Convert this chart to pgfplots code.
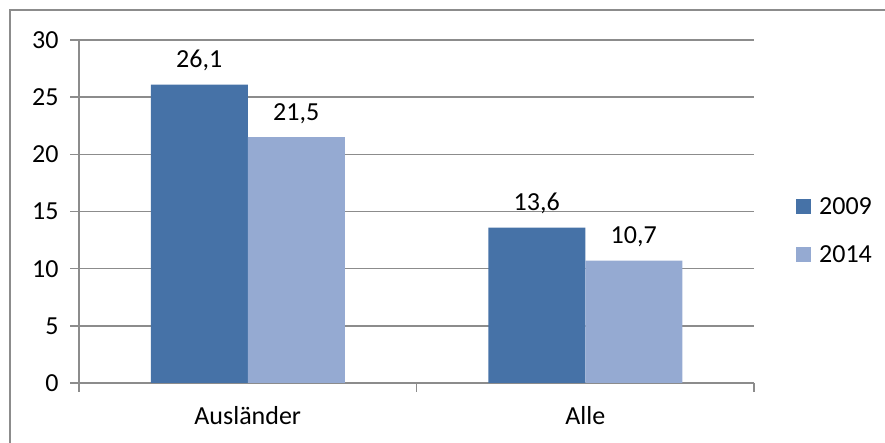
\documentclass[border=0pt]{standalone}
\usepackage{pgfplots}
\pgfplotsset{compat=1.18}
\usepackage{fontspec}
\setmainfont{Carlito}
\definecolor{c09}{RGB}{70,114,167}
\definecolor{c14}{RGB}{149,170,210}
\definecolor{gl}{RGB}{140,140,140}
\begin{document}
\begin{tikzpicture}[x=1pt,y=1pt]
\useasboundingbox (0,0) rectangle (885,443);
\draw[gl, line width=1.5pt] (10,0) -- (10,433) -- (885,433);
\begin{axis}[
  at={(79pt,60pt)}, anchor=south west,
  scale only axis, width=675pt, height=343pt,
  xmin=-0.5, xmax=1.5, ymin=0, ymax=30,
  ytick={0,5,...,30},
  ymajorgrids, grid style={gl, line width=1.5pt},
  axis lines*=left,
  axis line style={gl, line width=1.5pt},
  tick style={gl, line width=1.5pt},
  tick align=outside, major tick length=9pt, minor tick length=9pt,
  xtick={0,1}, xticklabels={Ausländer, Alle},
  major x tick style={draw=none},
  minor xtick={-0.5,0.5,1.5},
  /pgf/number format/assume math mode=true,
  tick label style={font=\fontsize{26}{31}\selectfont, text=black},
  xticklabel style={anchor=base, yshift=-33pt},
  yticklabel style={anchor=east, xshift=-8pt},
  ybar=0pt, bar width=97pt,
  nodes near coords={\pgfmathprintnumber[fixed, precision=1, fixed zerofill, use comma, assume math mode=true]{\pgfplotspointmeta}},
  nodes near coords style={font=\fontsize{26}{31}\selectfont, text=black, anchor=base, inner sep=0pt, yshift=17pt},
  legend image code/.code={\fill (0pt,-7.5pt) rectangle (15pt,7.5pt);},
  legend style={draw=none, fill=none, at={(1.0622,0.4446)}, anchor=west,
    inner sep=0pt, row sep=31pt, font=\fontsize{26}{31}\selectfont,
    nodes={inner sep=0pt, text height=17pt, text depth=0pt},
    /tikz/every odd column/.append style={column sep=8pt}},
  legend cell align=left,
]
\addplot[fill=c09, draw=none] coordinates {(0,26.1) (1,13.6)};
\addplot[fill=c14, draw=none] coordinates {(0,21.5) (1,10.7)};
\legend{2009, 2014}
\end{axis}
\end{tikzpicture}
\end{document}
